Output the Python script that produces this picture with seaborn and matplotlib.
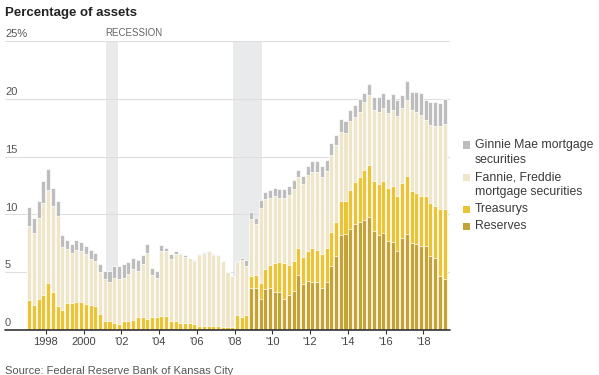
import matplotlib
matplotlib.use('Agg')
import numpy as np
import pandas as pd
import matplotlib.pyplot as plt
import matplotlib.transforms as mtransforms
from matplotlib.patches import Rectangle
import seaborn as sns

sns.set_style('white')
plt.rcParams['font.family'] = ['Liberation Sans', 'DejaVu Sans']

# quarterly data, 1997Q1 - 2019Q1, percentage of assets
# values are the cumulative tops of each stack segment
quarters = pd.period_range('1997Q1', '2019Q1', freq='Q')

ginnie_top = [
    10.6, 9.7, 11.2, 12.9, 13.9, 12.3, 11.2, 8.2, 7.75, 7.4,
    7.75, 7.6, 7.3, 6.9, 6.64, 5.69, 5.11, 5.11, 5.55, 5.55,
    5.69, 5.89, 6.26, 6.06, 6.47, 7.41, 5.4, 5.11, 7.33, 7.13,
    6.55, 6.8, 6.64, 6.47, 6.26, 6.06, 6.55, 6.75, 6.84, 6.55,
    6.47, 5.98, 5.03, 4.68, 5.98, 6.26, 6.06, 10.2, 9.71, 11.24,
    11.93, 12.1, 12.3, 12.21, 12.21, 12.5, 12.96, 13.88, 13.36, 14.22,
    14.66, 14.66, 14.22, 14.74, 16.18, 16.9, 18.22, 18.12, 19.05, 19.48,
    19.94, 20.54, 21.25, 20.14, 20.14, 20.49, 19.97, 20.4, 19.86, 20.3,
    21.5, 20.55, 20.55, 20.49, 19.91, 19.68, 19.68, 19.63, 19.97,
]
fannie_top = [
    9.0, 8.4, 9.7, 11.0, 12.1, 10.7, 9.9, 7.2, 7.0, 6.7,
    6.9, 6.8, 6.55, 6.1, 5.98, 5.03, 4.4, 4.17, 4.46, 4.4,
    4.54, 4.83, 5.26, 5.11, 5.69, 6.64, 4.74, 4.54, 6.84, 6.84,
    6.12, 6.6, 6.55, 6.35, 6.2, 6.0, 6.5, 6.7, 6.8, 6.5,
    6.45, 5.95, 5.0, 4.65, 5.89, 6.06, 5.55, 9.57, 9.14, 10.52,
    11.29, 11.44, 11.58, 11.44, 11.38, 11.72, 12.21, 13.22, 12.59, 13.45,
    13.65, 13.65, 13.22, 13.74, 15.17, 16.03, 17.14, 17.04, 18.05, 18.45,
    18.9, 19.7, 20.34, 19.05, 18.9, 19.2, 18.76, 19.05, 18.48, 19.2,
    19.9, 19.05, 18.9, 18.62, 18.19, 17.76, 17.61, 17.67, 17.84,
]
treasury_top = [
    2.6, 2.15, 2.7, 3.0, 4.1, 3.3, 2.05, 1.7, 2.3, 2.3,
    2.45, 2.45, 2.25, 2.2, 2.05, 1.35, 0.8, 0.8, 0.6, 0.55,
    0.75, 0.75, 0.9, 1.1, 1.1, 0.95, 1.1, 1.1, 1.2, 1.2,
    0.8, 0.8, 0.57, 0.57, 0.57, 0.52, 0.37, 0.37, 0.37, 0.32,
    0.32, 0.23, 0.23, 0.23, 1.29, 1.09, 1.29, 4.68, 4.77, 4.06,
    5.26, 5.6, 5.83, 5.89, 5.83, 5.6, 5.98, 7.13, 6.35, 6.84,
    7.13, 6.93, 6.55, 7.13, 8.45, 9.3, 11.15, 11.15, 12.08, 12.8,
    13.23, 13.88, 14.31, 12.87, 12.59, 12.87, 12.3, 12.44, 11.58, 12.7,
    13.3, 12.0, 11.87, 11.58, 11.58, 10.95, 10.72, 10.49, 10.49,
]
reserves_top = [0.0] * 47 + [
    3.59, 3.59, 2.67,
    3.53, 3.59, 3.3, 3.3, 2.67, 3.05, 3.39, 4.77, 3.97, 4.25,
    4.11, 4.11, 3.59, 4.11, 5.54, 6.38, 8.19, 8.28, 8.78, 9.18,
    9.36, 9.5, 9.8, 8.56, 8.22, 8.42, 7.7, 7.61, 6.84, 8.0,
    8.28, 7.56, 7.47, 7.27, 7.27, 6.41, 6.21, 4.68, 4.45,
]

series_names = ['Ginnie Mae mortgage\nsecurities', 'Fannie, Freddie\nmortgage securities',
                'Treasurys', 'Reserves']
series_colors = ['#bdbdbd', '#efe6ca', '#ebc436', '#c4a336']

recessions = [(2001.17, 2001.83), (2007.92, 2009.45)]
year_ticks = list(range(1998, 2019, 2))
year_labels = ['1998', '2000', "'02", "'04", "'06", "'08", "'10", "'12", "'14", "'16", "'18"]
y_levels = [0, 5, 10, 15, 20, 25]
y_labels = ['0', '5', '10', '15', '20', '25%']

df = pd.DataFrame({
    't': quarters.year + (quarters.quarter - 0.5) / 4,
    'ginnie': ginnie_top,
    'fannie': fannie_top,
    'treasury': treasury_top,
    'reserves': reserves_top,
})

W, H = 599, 375
fig = plt.figure(figsize=(W / 100, H / 100), dpi=100)
ax = fig.add_axes([5 / W, 1 - 330 / H, 445 / W, 289 / H])

# recession shading
for a, b in recessions:
    ax.axvspan(a, b, color='#e9eaec', lw=0, zorder=0)

# gridlines
for v in y_levels[1:]:
    ax.axhline(v, color='#dedede', lw=0.8, zorder=1)

# stacked bars: draw each cumulative level over the previous one
for col, color in zip(['ginnie', 'fannie', 'treasury', 'reserves'], series_colors):
    sns.barplot(data=df, x='t', y=col, native_scale=True, width=0.85, color=color,
                saturation=1, edgecolor='white', linewidth=0.5, errorbar=None,
                ax=ax, zorder=2)

ax.axhline(0, color='#333333', lw=1.2, zorder=3, clip_on=False)

ax.set_xlim(1995.84, 2019.41)
ax.set_ylim(0, 25)
ax.set_xlabel('')
ax.set_ylabel('')
ax.set_yticks([])
ax.set_xticks(year_ticks)
ax.set_xticklabels(year_labels)
ax.tick_params(axis='x', bottom=True, length=3, width=0.8, color='#333333',
               labelsize=8, labelcolor='#444444', pad=2)
for s in ax.spines.values():
    s.set_visible(False)

trans = mtransforms.blended_transform_factory(ax.transAxes, ax.transData)
for v, lab in zip(y_levels, y_labels):
    ax.text(0, v + 0.15, lab, transform=trans, ha='left', va='bottom',
            fontsize=8, color='#555555', zorder=4)

ax.text(recessions[0][0], 25.3, 'RECESSION', ha='left', va='bottom',
        fontsize=7, color='#666666', clip_on=False)

# title and source
fig.text(5 / W, 1 - 13 / H, 'Percentage of assets', fontsize=9.5, fontweight='bold',
         color='#222222', va='center', ha='left')
fig.text(5 / W, 1 - 371 / H, 'Source: Federal Reserve Bank of Kansas City', fontsize=8,
         color='#555555', va='center', ha='left')

# legend
legend_rows = [145, 177, 209, 226]
for name, color, yc in zip(series_names, series_colors, legend_rows):
    fig.add_artist(Rectangle((462.5 / W, 1 - (yc + 3.5) / H), 8 / W, 7 / H,
                             transform=fig.transFigure, color=color, lw=0))
    for k, line in enumerate(name.split('\n')):
        fig.text(475 / W, 1 - (yc + 15.5 * k) / H, line, fontsize=8.8,
                 color='#3a3a3a', va='center', ha='left')

fig.savefig('out.png', dpi=100)
